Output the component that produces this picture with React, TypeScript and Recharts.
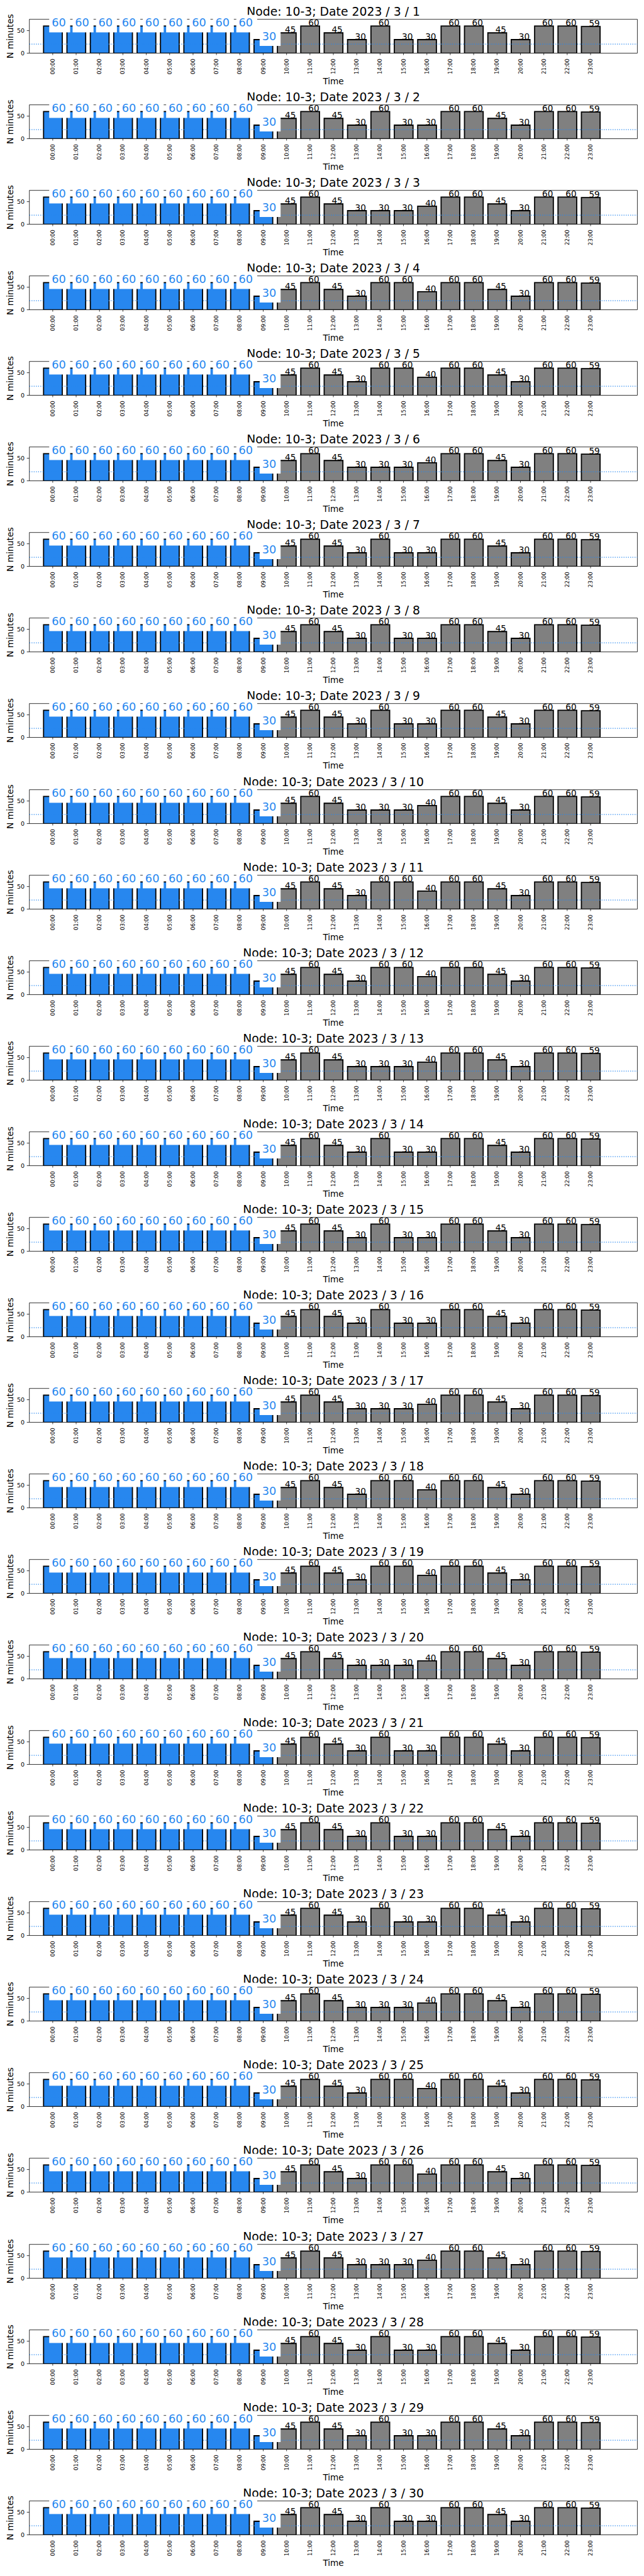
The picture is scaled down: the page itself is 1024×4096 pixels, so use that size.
import { BarChart, Bar, XAxis, YAxis, Cell, LabelList, ReferenceLine } from 'recharts'

// tick labels along the time axis
const HOURS = [
  '00:00', '01:00', '02:00', '03:00', '04:00', '05:00', '06:00', '07:00',
  '08:00', '09:00', '10:00', '11:00', '12:00', '13:00', '14:00', '15:00',
  '16:00', '17:00', '18:00', '19:00', '20:00', '21:00', '22:00', '23:00',
]

// day of month for each panel (March 2023)
const DAYS = [
  1, 2, 3, 4, 5, 6, 7, 8, 9, 10, 11, 12, 13, 14, 15,
  16, 17, 18, 19, 20, 21, 22, 23, 24, 25, 26, 27, 28, 29, 30,
]

// minutes per hour, one row per day
const MINUTES = [
  [60, 60, 60, 60, 60, 60, 60, 60, 60, 30, 45, 60, 45, 30, 60, 30, 30, 60, 60, 45, 30, 60, 60, 59],
  [60, 60, 60, 60, 60, 60, 60, 60, 60, 30, 45, 60, 45, 30, 60, 30, 30, 60, 60, 45, 30, 60, 60, 59],
  [60, 60, 60, 60, 60, 60, 60, 60, 60, 30, 45, 60, 45, 30, 30, 30, 40, 60, 60, 45, 30, 60, 60, 59],
  [60, 60, 60, 60, 60, 60, 60, 60, 60, 30, 45, 60, 45, 30, 60, 60, 40, 60, 60, 45, 30, 60, 60, 59],
  [60, 60, 60, 60, 60, 60, 60, 60, 60, 30, 45, 60, 45, 30, 60, 60, 40, 60, 60, 45, 30, 60, 60, 59],
  [60, 60, 60, 60, 60, 60, 60, 60, 60, 30, 45, 60, 45, 30, 30, 30, 40, 60, 60, 45, 30, 60, 60, 59],
  [60, 60, 60, 60, 60, 60, 60, 60, 60, 30, 45, 60, 45, 30, 60, 30, 30, 60, 60, 45, 30, 60, 60, 59],
  [60, 60, 60, 60, 60, 60, 60, 60, 60, 30, 45, 60, 45, 30, 60, 30, 30, 60, 60, 45, 30, 60, 60, 59],
  [60, 60, 60, 60, 60, 60, 60, 60, 60, 30, 45, 60, 45, 30, 60, 30, 30, 60, 60, 45, 30, 60, 60, 59],
  [60, 60, 60, 60, 60, 60, 60, 60, 60, 30, 45, 60, 45, 30, 30, 30, 40, 60, 60, 45, 30, 60, 60, 59],
  [60, 60, 60, 60, 60, 60, 60, 60, 60, 30, 45, 60, 45, 30, 60, 60, 40, 60, 60, 45, 30, 60, 60, 59],
  [60, 60, 60, 60, 60, 60, 60, 60, 60, 30, 45, 60, 45, 30, 60, 60, 40, 60, 60, 45, 30, 60, 60, 59],
  [60, 60, 60, 60, 60, 60, 60, 60, 60, 30, 45, 60, 45, 30, 30, 30, 40, 60, 60, 45, 30, 60, 60, 59],
  [60, 60, 60, 60, 60, 60, 60, 60, 60, 30, 45, 60, 45, 30, 60, 30, 30, 60, 60, 45, 30, 60, 60, 59],
  [60, 60, 60, 60, 60, 60, 60, 60, 60, 30, 45, 60, 45, 30, 60, 30, 30, 60, 60, 45, 30, 60, 60, 59],
  [60, 60, 60, 60, 60, 60, 60, 60, 60, 30, 45, 60, 45, 30, 60, 30, 30, 60, 60, 45, 30, 60, 60, 59],
  [60, 60, 60, 60, 60, 60, 60, 60, 60, 30, 45, 60, 45, 30, 30, 30, 40, 60, 60, 45, 30, 60, 60, 59],
  [60, 60, 60, 60, 60, 60, 60, 60, 60, 30, 45, 60, 45, 30, 60, 60, 40, 60, 60, 45, 30, 60, 60, 59],
  [60, 60, 60, 60, 60, 60, 60, 60, 60, 30, 45, 60, 45, 30, 60, 60, 40, 60, 60, 45, 30, 60, 60, 59],
  [60, 60, 60, 60, 60, 60, 60, 60, 60, 30, 45, 60, 45, 30, 30, 30, 40, 60, 60, 45, 30, 60, 60, 59],
  [60, 60, 60, 60, 60, 60, 60, 60, 60, 30, 45, 60, 45, 30, 60, 30, 30, 60, 60, 45, 30, 60, 60, 59],
  [60, 60, 60, 60, 60, 60, 60, 60, 60, 30, 45, 60, 45, 30, 60, 30, 30, 60, 60, 45, 30, 60, 60, 59],
  [60, 60, 60, 60, 60, 60, 60, 60, 60, 30, 45, 60, 45, 30, 60, 30, 30, 60, 60, 45, 30, 60, 60, 59],
  [60, 60, 60, 60, 60, 60, 60, 60, 60, 30, 45, 60, 45, 30, 30, 30, 40, 60, 60, 45, 30, 60, 60, 59],
  [60, 60, 60, 60, 60, 60, 60, 60, 60, 30, 45, 60, 45, 30, 60, 60, 40, 60, 60, 45, 30, 60, 60, 59],
  [60, 60, 60, 60, 60, 60, 60, 60, 60, 30, 45, 60, 45, 30, 60, 60, 40, 60, 60, 45, 30, 60, 60, 59],
  [60, 60, 60, 60, 60, 60, 60, 60, 60, 30, 45, 60, 45, 30, 30, 30, 40, 60, 60, 45, 30, 60, 60, 59],
  [60, 60, 60, 60, 60, 60, 60, 60, 60, 30, 45, 60, 45, 30, 60, 30, 30, 60, 60, 45, 30, 60, 60, 59],
  [60, 60, 60, 60, 60, 60, 60, 60, 60, 30, 45, 60, 45, 30, 60, 30, 30, 60, 60, 45, 30, 60, 60, 59],
  [60, 60, 60, 60, 60, 60, 60, 60, 60, 30, 45, 60, 45, 30, 60, 30, 30, 60, 60, 45, 30, 60, 60, 59],
]

const HIGHLIGHT_UNTIL = 10 // 00:00 - 09:00 are drawn blue
const THRESHOLD = 20
const Y_MAX = 75
const Y_TICKS = [0, 50]

// layout, in px of the 1023-wide window (reference * 0.682)
const S = 0.682
const W = 1500 * S
const PANEL_H = 199.5 * S
const PLOT_L = 68.4 * S
const PLOT_R = 1486 * S
const PLOT_T = 45 * S
const PLOT_B = 124 * S
const UNIT = (PLOT_R - PLOT_L) / 26 // xlim is (-1, 25)
const XAXIS_H = 40
const YAXIS_W = 40

const BLUE = '#2787ef'
const FONT = 'DejaVu Sans, sans-serif'
const SPINE = { stroke: '#000', strokeWidth: 0.8 }

function ValueLabel(props: any) {
  const vb = props.viewBox ?? props
  const { x, y, width } = vb
  const cx = x + width / 2
  if (props.index < HIGHLIGHT_UNTIL) {
    const base = y + 0.7
    return (
      <g>
        <rect x={cx - 5.9} y={base - 18.6} width={33.3} height={27.9} fill="#fff" />
        <text x={cx - 2} y={base} fontSize={26 * S} fill={BLUE} fontFamily={FONT}>{props.value}</text>
      </g>
    )
  }
  return <text x={cx - 2.9} y={y} fontSize={20 * S} fill="#000" fontFamily={FONT}>{props.value}</text>
}

function HourTick({ x, y, payload }: any) {
  return (
    <text x={x} y={y} transform={`rotate(-90, ${x}, ${y})`} textAnchor="end" dy="0.35em"
      fontSize={12.7 * S} fontFamily={FONT} fill="#000">{payload.value}</text>
  )
}

// one chart layer; the three layers share axes so they line up, and stacking them
// keeps the order bars -> dotted line -> value labels
function Layer({ data, layer }: { data: { hour: string; minutes: number }[]; layer: 'bars' | 'line' | 'labels' }) {
  const shown = layer === 'bars'
  return (
    <div style={{ position: 'absolute', left: 0, top: 0 }}>
      <BarChart width={W} height={PANEL_H} data={data}
        margin={{ top: PLOT_T, right: W - PLOT_R, bottom: PANEL_H - PLOT_B - XAXIS_H, left: PLOT_L - YAXIS_W }}>
        <XAxis dataKey="hour" height={XAXIS_H} interval={0} padding={{ left: UNIT * 0.5, right: UNIT * 1.5 }}
          tick={shown ? <HourTick /> : false} tickSize={3} tickMargin={5.6}
          axisLine={shown ? SPINE : false} tickLine={shown ? SPINE : false} />
        <YAxis type="number" domain={[0, Y_MAX]} ticks={Y_TICKS} width={YAXIS_W} allowDataOverflow
          tickSize={4} tickMargin={3.5} tick={shown ? { fontSize: 14 * S, fill: '#000', fontFamily: FONT } : false}
          axisLine={shown ? SPINE : false} tickLine={shown ? SPINE : false} />
        {layer === 'bars' && (
          <Bar dataKey="minutes" barSize={UNIT * 0.8} stroke="#000" strokeWidth={1.8} isAnimationActive={false}>
            {data.map((_, i) => (
              <Cell key={i} fill={i < HIGHLIGHT_UNTIL ? BLUE : '#808080'} />
            ))}
          </Bar>
        )}
        {layer === 'line' && (
          <ReferenceLine y={THRESHOLD} stroke={BLUE} strokeWidth={1.2} strokeDasharray="1.3 2.2" />
        )}
        {layer === 'labels' && (
          <Bar dataKey="minutes" barSize={UNIT * 0.8} fill="none" stroke="none" isAnimationActive={false}>
            <LabelList dataKey="minutes" content={<ValueLabel />} />
          </Bar>
        )}
      </BarChart>
    </div>
  )
}

function Panel({ day, values, top }: { day: number; values: number[]; top: number }) {
  const data = HOURS.map((hour, i) => ({ hour, minutes: values[i] }))
  const midX = (PLOT_L + PLOT_R) / 2
  const midY = (PLOT_T + PLOT_B) / 2
  return (
    <div style={{ position: 'absolute', left: 0, top, width: W, height: PANEL_H }}>
      <svg width={W} height={PANEL_H} style={{ position: 'absolute', left: 0, top: 0 }}>
        <polyline points={`${PLOT_L},${PLOT_T} ${PLOT_R},${PLOT_T} ${PLOT_R},${PLOT_B}`} fill="none" {...SPINE} />
        <text x={midX} y={25} textAnchor="middle" fontSize={27.6 * S} fontFamily={FONT} fill="#000">
          {`Node: 10-3; Date 2023 / 3 / ${day}`}
        </text>
        <text x={21.2} y={midY} transform={`rotate(-90, 21.2, ${midY})`} textAnchor="middle"
          fontSize={20.3 * S} fontFamily={FONT} fill="#000">N minutes</text>
        <text x={midX} y={134.1} textAnchor="middle" fontSize={20 * S} fontFamily={FONT} fill="#000">Time</text>
      </svg>
      <Layer data={data} layer="bars" />
      <Layer data={data} layer="line" />
      <Layer data={data} layer="labels" />
    </div>
  )
}

export default function App() {
  return (
    <div style={{ position: 'absolute', left: 0, top: 0, width: W, height: 6000 * S, background: '#fff' }}>
      {DAYS.map((day, k) => (
        <Panel key={day} day={day} values={MINUTES[k]} top={k * PANEL_H} />
      ))}
    </div>
  )
}
